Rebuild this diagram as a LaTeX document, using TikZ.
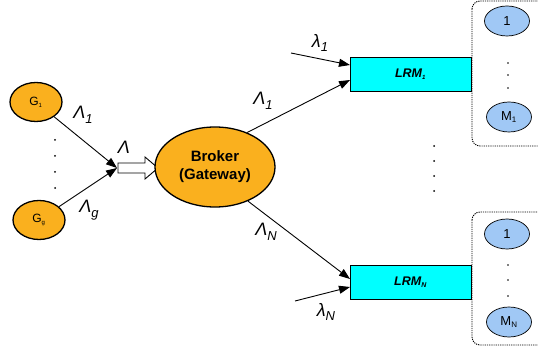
\documentclass[tikz,border=0pt]{standalone}
\usepackage{fontspec}
\setmainfont{Liberation Sans}
\usetikzlibrary{arrows.meta,shapes.geometric}
\definecolor{gold}{RGB}{250,176,30}
\definecolor{lblue}{RGB}{160,200,245}
\definecolor{cyanbox}{RGB}{0,255,255}
\begin{document}
\begin{tikzpicture}[x=1pt,y=-1pt,
  gnode/.style={ellipse,draw,line width=1.3pt,fill=gold,minimum width=52pt,minimum height=39pt,inner sep=0pt,font=\fontsize{12}{13}\selectfont},
  bnode/.style={ellipse,draw,line width=1.3pt,fill=gold,minimum width=120pt,minimum height=80pt,inner sep=0pt,align=center,font=\bfseries\fontsize{15}{18}\selectfont},
  lrm/.style={rectangle,draw,line width=0.9pt,fill=cyanbox,minimum width=121pt,minimum height=34pt,inner sep=0pt,font=\bfseries\itshape\fontsize{12.5}{14}\selectfont},
  mnode/.style={ellipse,draw,line width=0.7pt,fill=lblue,minimum width=45pt,minimum height=30pt,inner sep=0pt,font=\fontsize{13}{15}\selectfont},
  arr/.style={line width=0.9pt,-{Triangle[length=11pt,width=8pt]}},
  lab/.style={font=\itshape\fontsize{18}{20}\selectfont,inner sep=0pt},
  grp/.style={draw,line width=0.9pt,dash pattern=on 1.2pt off 1pt,rounded corners=8pt},
  dot/.style={circle,fill=black,inner sep=0pt,minimum size=2pt}
]
\useasboundingbox (0,0) rectangle (538,358);
\clip (0,0) rectangle (538,358);

% left sources
\node[gnode] (g1) at (36,102) {G\textsubscript{\fontsize{6}{6}\selectfont 1}};
\node[gnode] (gg) at (39,220) {G\textsubscript{\fontsize{6}{6}\selectfont g}};
\foreach \yy [count=\i] in {140,156,172,188} \node[dot] (ld\i) at (55,\yy) {};
\coordinate (hin) at (117,168);
\draw[arr] (g1) -- (hin);
\draw[arr] (gg) -- (hin);
\node[lab] (l1) at (83,115) {Λ\raisebox{-0.5ex}{\fontsize{13}{14}\selectfont 1}};
\node[lab] (lg) at (89,210) {Λ\raisebox{-0.5ex}{\fontsize{13}{14}\selectfont g}};

% hollow arrow
\draw[line width=0.9pt,fill=white] (118,163) -- (145,163) -- (145,157) -- (158,168) -- (145,179) -- (145,173) -- (118,173) -- cycle;
\node[lab] (lam) at (124,147) {Λ};

% broker
\node[bnode] (broker) at (215,167) {Broker\\(Gateway)};

% LRMs
\node[lrm] (lrm1) at (410.5,74) {LRM\textsubscript{\fontsize{6}{6}\selectfont 1}};
\node[lrm] (lrmn) at (410.5,282) {LRM\textsubscript{\fontsize{7}{7}\selectfont N}};
\coordinate (t1) at (350,80);
\coordinate (tn) at (350,279);
\coordinate (s1) at (291,53);
\coordinate (e1) at (350,65);
\coordinate (sn) at (295,301);
\coordinate (en) at (350,287);
\draw[arr] (broker.47) -- (t1);
\draw[arr] (broker.-46) -- (tn);
\draw[arr] (s1) -- (e1);
\draw[arr] (sn) -- (en);
\node[lab] (lb1) at (263,101) {Λ\raisebox{-0.5ex}{\fontsize{13}{14}\selectfont 1}};
\node[lab] (lbn) at (266,232) {Λ\raisebox{-0.5ex}{\fontsize{13}{14}\selectfont N}};
\node[lab] (sl1) at (320,43) {λ\raisebox{-0.5ex}{\fontsize{13}{14}\selectfont 1}};
\node[lab] (sln) at (326,312) {λ\raisebox{-0.5ex}{\fontsize{13}{14}\selectfont N}};

\foreach \yy [count=\i] in {146,161,176,191} \node[dot] (md\i) at (434,\yy) {};

% groups
\draw[grp] (472,1) rectangle (560,146);
\draw[grp] (472,212) rectangle (560,345);
\node[mnode] (a1) at (507,21) {1};
\node[mnode] (am) at (509,117) {M\textsubscript{\fontsize{8}{9}\selectfont 1}};
\foreach \yy [count=\i] in {63,75,88} \node[dot,minimum size=1.8pt] (ad\i) at (508,\yy) {};
\node[mnode] (b1) at (507,234) {1};
\node[mnode] (bm) at (509,322) {M\textsubscript{\fontsize{8}{9}\selectfont N}};
\foreach \yy [count=\i] in {265,280,296} \node[dot,minimum size=1.8pt] (bd\i) at (508,\yy) {};
\end{tikzpicture}
\end{document}
